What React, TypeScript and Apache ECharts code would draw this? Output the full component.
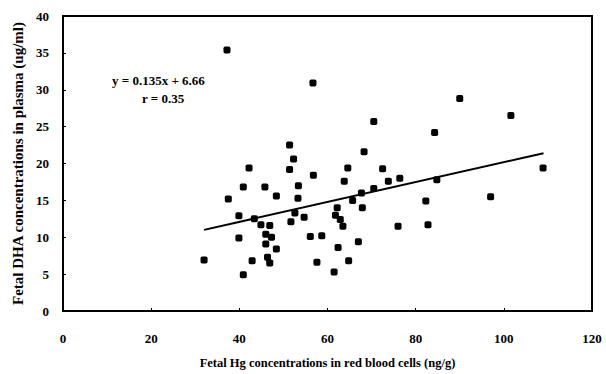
import React, { useEffect, useRef } from "react";
import * as echarts from "echarts";

const hgValues = [32.0, 37.2, 37.5, 39.9, 39.9, 40.9, 40.9, 42.2, 42.9, 43.4, 44.9, 45.8, 46.0, 46.0, 46.4, 46.9, 46.9, 47.3, 48.4, 48.4, 51.4, 51.4, 51.7, 52.3, 52.6, 53.4, 53.3, 54.7, 56.1, 56.7, 56.8, 57.6, 58.7, 61.5, 61.8, 62.2, 62.4, 62.9, 63.5, 63.8, 64.6, 64.8, 65.7, 67.0, 67.7, 67.9, 68.3, 70.5, 70.5, 72.5, 73.8, 76.0, 76.4, 82.3, 82.8, 84.3, 84.8, 90.0, 97.0, 101.6, 108.9];
const dhaValues = [6.9, 35.4, 15.2, 12.9, 9.9, 16.8, 4.9, 19.4, 6.8, 12.5, 11.7, 16.8, 10.4, 9.1, 7.3, 6.5, 11.6, 10.0, 15.6, 8.4, 22.5, 19.2, 12.1, 20.6, 13.3, 17.0, 15.3, 12.7, 10.1, 30.9, 18.4, 6.6, 10.2, 5.3, 13.0, 14.0, 8.6, 12.4, 11.5, 17.6, 19.4, 6.8, 15.0, 9.4, 16.0, 14.0, 21.6, 25.7, 16.6, 19.3, 17.6, 11.5, 18.0, 14.9, 11.7, 24.2, 17.8, 28.8, 15.5, 26.5, 19.4];
const trendX = [32, 109];
const trendY = [11.0, 21.4];
const xTicks = [0, 20, 40, 60, 80, 100, 120];
const yTicks = [0, 5, 10, 15, 20, 25, 30, 35, 40];
const equationText = "y = 0.135x + 6.66";
const rText = "r = 0.35";
const xTitle = "Fetal Hg concentrations in red blood cells (ng/g)";
const yTitle = "Fetal DHA concentrations in plasma (ug/ml)";

const FONT = "Liberation Serif";

export default function App() {
  const ref = useRef<HTMLDivElement>(null);
  useEffect(() => {
    if (!ref.current) return;
    const chart = echarts.init(ref.current, null, { renderer: "svg" });
    const labelStyle = { color: "#000", fontFamily: FONT, fontWeight: "bold" as const, fontSize: 13 };
    chart.setOption({
      animation: false,
      backgroundColor: "#fff",
      grid: { left: 63, right: 14, top: 16, bottom: 58, show: true, borderColor: "#000", borderWidth: 2 },
      xAxis: {
        type: "value",
        min: xTicks[0],
        max: xTicks[xTicks.length - 1],
        interval: 20,
        name: xTitle,
        nameLocation: "middle",
        nameGap: 45,
        nameTextStyle: { ...labelStyle, fontSize: 12.5 },
        axisLine: { show: true, lineStyle: { color: "#000", width: 2 } },
        axisTick: { show: true, inside: true, length: 3, lineStyle: { color: "#000" } },
        axisLabel: { ...labelStyle, margin: 21 },
        splitLine: { show: false },
      },
      yAxis: {
        type: "value",
        min: yTicks[0],
        max: yTicks[yTicks.length - 1],
        interval: 5,
        name: yTitle,
        nameLocation: "middle",
        nameGap: 36,
        nameTextStyle: { ...labelStyle, fontSize: 15 },
        axisLine: { show: true, lineStyle: { color: "#000", width: 2 } },
        axisTick: { show: true, inside: true, length: 3, lineStyle: { color: "#000" } },
        axisLabel: { ...labelStyle, margin: 14 },
        splitLine: { show: false },
      },
      graphic: [
        { type: "text", left: 112, top: 74, style: { text: equationText, font: `bold 13px "${FONT}"`, fill: "#000" } },
        { type: "text", left: 142, top: 92, style: { text: rText, font: `bold 13px "${FONT}"`, fill: "#000" } },
      ],
      series: [
        {
          type: "scatter",
          data: hgValues.map((x, i) => [x, dhaValues[i]]),
          symbol: "roundRect",
          symbolSize: 7,
          itemStyle: { color: "#000", opacity: 1 },
        },
        {
          type: "line",
          data: trendX.map((x, i) => [x, trendY[i]]),
          symbol: "none",
          lineStyle: { color: "#000", width: 2 },
        },
      ],
    });
    return () => chart.dispose();
  }, []);
  return <div ref={ref} style={{ width: 606, height: 374, position: "absolute", left: 0, top: 0 }} />;
}
